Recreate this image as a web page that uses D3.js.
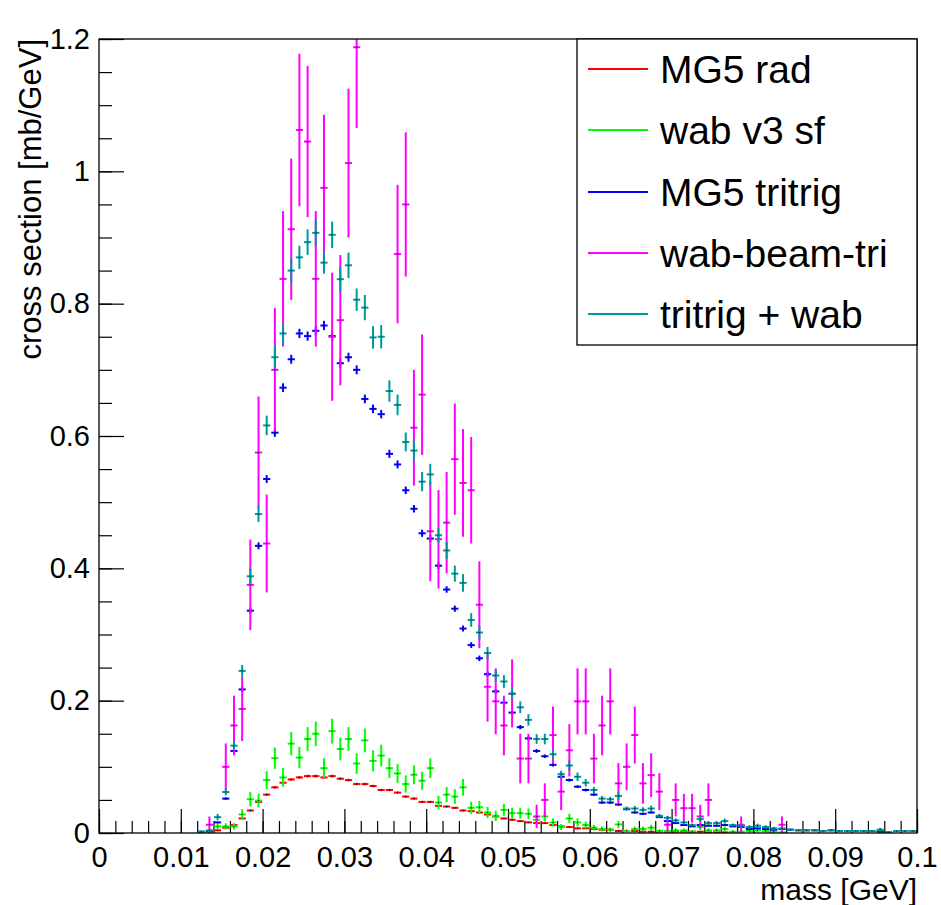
<!DOCTYPE html>
<html><head><meta charset="utf-8">
<script src="https://cdn.jsdelivr.net/npm/d3@7"></script>
<style>body{margin:0;background:#fff}svg{display:block}</style>
</head><body><svg id="c" width="941" height="905"></svg>
<script>
// ---- data: 100 bins of 0.001 GeV from 0 to 0.1 GeV ----
const massMin = 0, massMax = 0.1, nBins = 100;
const seriesNames = ["MG5 rad", "wab v3 sf", "MG5 tritrig", "wab-beam-tri", "tritrig + wab"];

const mg5Rad = [
0,0,0,0,0,0,0,0,0,0,
0,0,0,0.002,0.004,0.008,0.012,0.022,0.034,0.047,
0.058,0.069,0.076,0.081,0.084,0.086,0.086,0.084,0.086,0.082,
0.080,0.074,0.074,0.071,0.065,0.065,0.061,0.055,0.052,0.047,
0.047,0.041,0.040,0.038,0.034,0.033,0.031,0.028,0.025,0.022,
0.020,0.018,0.016,0.015,0.015,0.012,0.010,0.009,0.007,0.007,
0.006,0.005,0.005,0.003,0.003,0.003,0.002,0.002,0.002,0.002,
0.002,0.002,0.002,0.002,0.001,0.001,0.001,0.001,0,0,
0,0,0,0,0,0,0,0,0,0,
0,0,0,0,0,0,0,0,0,0];

const wabV3sf = [
0,0,0,0,0,0,0,0,0,0,
0,0,0,0.002,0.010,0.010,0.010,0.028,0.051,0.049,
0.080,0.113,0.084,0.135,0.114,0.142,0.150,0.098,0.154,0.127,
0.142,0.105,0.140,0.109,0.117,0.098,0.090,0.074,0.088,0.079,
0.098,0.046,0.058,0.055,0.069,0.038,0.039,0.031,0.026,0.035,
0.030,0.030,0.029,0.020,0.025,0.016,0.009,0.022,0.016,0.012,
0.008,0.006,0.005,0.013,0.003,0.006,0.006,0.008,0.003,0.003,
0.004,0.004,0.002,0.009,0.004,0.004,0.006,0.002,0.002,0.003,
0.004,0.003,0.002,0.001,0,0,0,0,0,0,
0,0,0,0,0,0.003,0,0,0,0];

const mg5Tritrig = [
0,0,0,0,0,0,0,0,0,0,
0,0,0.002,0.003,0.016,0.052,0.124,0.217,0.336,0.434,
0.535,0.605,0.673,0.716,0.755,0.751,0.759,0.767,0.751,0.710,
0.719,0.700,0.656,0.641,0.633,0.573,0.557,0.518,0.490,0.453,
0.445,0.404,0.368,0.339,0.309,0.284,0.264,0.240,0.214,0.197,
0.182,0.160,0.143,0.124,0.116,0.103,0.085,0.080,0.070,0.065,
0.058,0.046,0.046,0.043,0.036,0.031,0.029,0.031,0.024,0.018,
0.015,0.012,0.010,0.012,0.011,0.011,0.012,0.010,0.009,0.006,
0.007,0.006,0.005,0.006,0.005,0.004,0.004,0.004,0.003,0.004,
0.003,0.003,0.003,0.003,0.003,0.002,0.001,0.003,0.003,0.003];

const wabBeamTri = [
0,0,0,0,0,0,0,0,0,0,
0,0,0,0.0125,0,0.100,0.1625,0.1875,0.375,0.575,
0.4375,0.700,0.8375,0.9125,1.0625,1.045,0.8375,0.975,0.750,0.775,
1.0125,1.1875,0,0,0,0,0.875,0.950,0.6125,0.6625,
0.456,0.444,0.469,0.565,0.529,0.518,0.345,0.221,0.199,0.1625,
0.211,0.1125,0.1125,0.025,0.050,0.148,0.0625,0.125,0.199,0.199,
0.1125,0.1625,0.199,0.075,0.100,0.148,0.075,0.0875,0.0625,0.0125,
0.050,0.0375,0.0375,0.025,0.050,0,0,0,0.0125,0,
0,0,0,0.0125,0,0,0,0,0,0,
0,0,0,0,0,0,0,0,0,0];

const tritrigPlusWab = [
0,0,0,0,0,0,0,0,0,0,
0,0,0.002,0.004,0.024,0.062,0.132,0.245,0.388,0.482,
0.616,0.719,0.755,0.850,0.870,0.893,0.907,0.862,0.904,0.837,
0.858,0.806,0.794,0.749,0.750,0.668,0.647,0.591,0.578,0.531,
0.542,0.450,0.427,0.392,0.378,0.322,0.303,0.272,0.238,0.229,
0.210,0.190,0.171,0.142,0.142,0.119,0.089,0.102,0.085,0.076,
0.065,0.052,0.051,0.056,0.037,0.037,0.035,0.037,0.026,0.023,
0.019,0.016,0.012,0.021,0.015,0.015,0.018,0.012,0.011,0.009,
0.011,0.009,0.007,0.007,0.005,0.004,0.004,0.004,0.003,0.004,
0.003,0.003,0.003,0.003,0.003,0.005,0.001,0.003,0.003,0.003];

// per-event weights (error = sqrt(weight * content))
const wRed = 0.00005, wGreen = 0.0023, wBlue = 0.000065, wMagenta = 0.0125;

const xTickValues = [0,0.01,0.02,0.03,0.04,0.05,0.06,0.07,0.08,0.09,0.1];
const yTickValues = [0,0.2,0.4,0.6,0.8,1.0,1.2];

// ---- layout ----
const svg = d3.select("#c");
const L = 99, R = 917, T = 39, B = 833;
const x = d3.scaleLinear().domain([massMin, massMax]).range([L, R]);
const y = d3.scaleLinear().domain([0, 1.2]).range([B, T]);
const font = "'Liberation Sans', Arial, Helvetica, sans-serif";
const fmt = d => d === 0 ? "0" : String(+d.toFixed(3));

svg.append("rect").attr("width",941).attr("height",905).attr("fill","#fff");

svg.append("clipPath").attr("id","frame").append("rect")
  .attr("x",L).attr("y",T).attr("width",R-L).attr("height",B-T);

// minor ticks
const xMinor = d3.range(0, 51).map(i => i*0.002);
const yMinor = d3.range(0, 25).map(i => i*0.05);
svg.append("g").attr("transform",`translate(0,${B})`)
  .call(d3.axisBottom(x).tickValues(xMinor).tickSize(-12).tickFormat(""))
  .call(g => { g.select(".domain").remove(); g.selectAll("line").attr("stroke","#000").attr("stroke-width",1.2); });
svg.append("g").attr("transform",`translate(${L},0)`)
  .call(d3.axisLeft(y).tickValues(yMinor).tickSize(-13).tickFormat(""))
  .call(g => { g.select(".domain").remove(); g.selectAll("line").attr("stroke","#000").attr("stroke-width",1.2); });

// major axes
const xAxis = svg.append("g").attr("transform",`translate(0,${B})`)
  .call(d3.axisBottom(x).tickValues(xTickValues).tickSize(-24).tickPadding(13).tickFormat(fmt));
xAxis.select(".domain").remove();
xAxis.selectAll("line").attr("stroke","#000").attr("stroke-width",1.2);
xAxis.selectAll("text").attr("font-family",font).attr("font-size",29).attr("fill","#000");

const yAxis = svg.append("g").attr("transform",`translate(${L},0)`)
  .call(d3.axisLeft(y).tickValues(yTickValues).tickSize(-25).tickPadding(9).tickFormat(fmt));
yAxis.select(".domain").remove();
yAxis.selectAll("line").attr("stroke","#000").attr("stroke-width",1.2);
yAxis.selectAll("text").attr("font-family",font).attr("font-size",29).attr("fill","#000");

// data
const binW = (massMax - massMin) / nBins;
const series = [
  {name: seriesNames[0], color:"#ff0000", vals: mg5Rad, err: i => Math.sqrt(wRed*mg5Rad[i])},
  {name: seriesNames[1], color:"#00ff00", vals: wabV3sf, err: i => Math.sqrt(wGreen*wabV3sf[i])},
  {name: seriesNames[2], color:"#0000ff", vals: mg5Tritrig, err: i => Math.sqrt(wBlue*mg5Tritrig[i])},
  {name: seriesNames[3], color:"#ff00ff", vals: wabBeamTri, err: i => Math.sqrt(wMagenta*wabBeamTri[i])},
  {name: seriesNames[4], color:"#009999", vals: tritrigPlusWab, err: i => Math.sqrt(wBlue*mg5Tritrig[i] + wGreen*wabV3sf[i])}
];

const plot = svg.append("g").attr("clip-path","url(#frame)");
series.forEach(s => {
  const pts = s.vals.map((v,i) => ({i, v, e: s.err(i)})).filter(d => d.v > 0);
  const g = plot.append("g");
  g.selectAll("line.h").data(pts).join("line").attr("class","h")
    .attr("x1", d => x(massMin + d.i*binW) + 0.5)
    .attr("x2", d => x(massMin + (d.i+1)*binW) - 0.5)
    .attr("y1", d => y(d.v)).attr("y2", d => y(d.v))
    .attr("stroke", s.color).attr("stroke-width", 2);
  g.selectAll("line.v").data(pts).join("line").attr("class","v")
    .attr("x1", d => x(massMin + (d.i+0.5)*binW))
    .attr("x2", d => x(massMin + (d.i+0.5)*binW))
    .attr("y1", d => y(d.v - d.e)).attr("y2", d => y(d.v + d.e))
    .attr("stroke", s.color).attr("stroke-width", 2);
  g.selectAll("rect.m").data(pts).join("rect").attr("class","m")
    .attr("x", d => x(massMin + (d.i+0.5)*binW) - 0.5)
    .attr("y", d => y(d.v) - 0.5)
    .attr("width",1).attr("height",1).attr("fill","#000");
});

// frame
svg.append("rect").attr("x",L).attr("y",T).attr("width",R-L).attr("height",B-T)
  .attr("fill","none").attr("stroke","#000").attr("stroke-width",1.3);

// axis titles
svg.append("text").attr("x",R).attr("y",900).attr("text-anchor","end")
  .attr("font-family",font).attr("font-size",30).text("mass [GeV]");
svg.append("text").attr("transform",`translate(41,${T}) rotate(-90)`).attr("text-anchor","end")
  .attr("font-family",font).attr("font-size",31).text("cross section [mb/GeV]");

// legend
const lg = svg.append("g");
lg.append("rect").attr("x",577).attr("y",T).attr("width",R-577).attr("height",306)
  .attr("fill","#fff").attr("stroke","#000").attr("stroke-width",1.3);
const legY = [69, 130, 192, 253, 314];
series.forEach((s,k) => {
  lg.append("line").attr("x1",588).attr("x2",648).attr("y1",legY[k]).attr("y2",legY[k])
    .attr("stroke",s.color).attr("stroke-width",2);
  lg.append("text").attr("x",660).attr("y",legY[k] + 14).attr("font-family",font)
    .attr("font-size",39).attr("fill","#000").text(s.name);
});
</script></body></html>
